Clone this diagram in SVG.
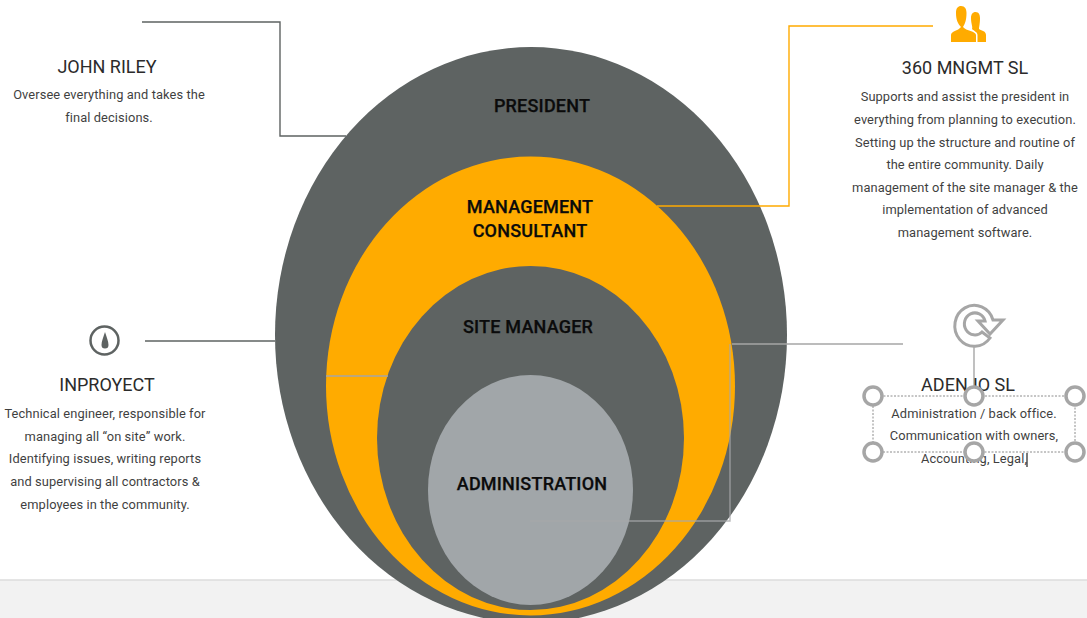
<svg xmlns="http://www.w3.org/2000/svg" width="1087" height="618" viewBox="0 0 1087 618">
<style>
text{font-family:Roboto,"Liberation Sans",sans-serif;text-anchor:middle}
.h{font-size:18px;fill:#2b2b2b}
.b{font-size:12.85px;fill:#3f3f3f;letter-spacing:.1px}
.l{font-size:18px;font-weight:500;fill:#0b0b0b;letter-spacing:.2px;stroke:#0b0b0b;stroke-width:.25px}
.c{fill:none;stroke-width:1.4}
.hd{fill:#fff;stroke:#a6a6a6;stroke-width:3.5}
</style>
<rect width="1087" height="618" fill="#fff"/>
<rect x="0" y="580" width="1087" height="38" fill="#f2f2f2"/>
<line x1="0" y1="580" x2="1087" y2="580" stroke="#dcdcdc" stroke-width="1.3"/>
<g id="node-president"><ellipse cx="531" cy="335" rx="256" ry="288" fill="#5e6362"/><text class="l" x="542" y="112">PRESIDENT</text></g>
<g id="node-consultant"><ellipse cx="530.5" cy="386" rx="204.5" ry="229.500" fill="#ffab00"/><text class="l" x="530" y="213">MANAGEMENT</text><text class="l" x="530" y="237">CONSULTANT</text></g>
<g id="node-site"><ellipse cx="530.5" cy="438" rx="153.500" ry="172" fill="#5e6362"/><text class="l" x="528" y="333">SITE MANAGER</text></g>
<g id="node-admin"><ellipse cx="530.500" cy="490" rx="102.500" ry="115" fill="#a1a6a9"/><text class="l" x="532" y="490">ADMINISTRATION</text></g>
<g id="connectors">
<path class="c" stroke="#5e6362" d="M142 22H280V136H346"/>
<path class="c" stroke="#ffab00" d="M933 26H789V206H657"/>
<path class="c" stroke="#5e6362" d="M145 341H275"/>
<path class="c" stroke="#a6a6a6" d="M326 376H388"/>
<path class="c" stroke="#a6a6a6" d="M732 344H903"/>
<path class="c" stroke="#a6a8aa" stroke-opacity=".8" d="M730 344V521H530"/>
<path class="c" stroke="#a6a6a6" d="M974 345V396"/>
</g>
<g id="node-john"><text class="h" x="107" y="73">JOHN RILEY</text><text class="b" x="109" y="99">Oversee everything and takes the</text><text class="b" x="109" y="122">final decisions.</text></g>
<g id="node-360">
<g fill="#ffab00">
<path d="M951 42V35C951 31 958 31 961 27C958 24 956 20 956 13C956 8 958 6 961 6C965 6 966.500 9 966.500 13C966.500 20 965 24 963 27C966 31 976 31 976 35V42Z"/>
<path d="M977.500 42V35C977.500 32 974 31 972 29C973 27 971 24 971 18C971 14 973 12 975.500 12C979 12 980 15 980 18C980 24 979 27 979 29C982 31 986 31 986 35V42Z"/>
</g>
<text class="h" x="965" y="74">360 MNGMT SL</text>
<text class="b" x="965" y="101">Supports and assist the president in</text>
<text class="b" x="965" y="124">everything from planning to execution.</text>
<text class="b" x="965" y="147">Setting up the structure and routine of</text>
<text class="b" x="965" y="169">the entire community. Daily</text>
<text class="b" x="965" y="192">management of the site manager &amp; the</text>
<text class="b" x="965" y="214">implementation of advanced</text>
<text class="b" x="965" y="237">management software.</text>
</g>
<g id="node-inproyect">
<circle cx="104.500" cy="340.500" r="14" fill="#fff" stroke="#5e6362" stroke-width="2.500"/>
<path d="M105 332C103.500 337 101.500 341 101.500 345A3.500 3.500 0 0 0 108.500 345C108.500 341 106.500 337 105 332Z" fill="#5e6362"/>
<text class="h" x="107" y="391">INPROYECT</text>
<text class="b" x="105" y="418">Technical engineer, responsible for</text>
<text class="b" x="105" y="441">managing all “on site” work.</text>
<text class="b" x="105" y="463">Identifying issues, writing reports</text>
<text class="b" x="105" y="486">and supervising all contractors &amp;</text>
<text class="b" x="105" y="509">employees in the community.</text>
</g>
<g id="node-adenjo">
<path d="M990 338A19.500 20.500 0 1 1 993 320L1003 320L990 334L978 321L985 321A10.500 11 0 1 0 982 332Z" fill="#fff" stroke="#a6a6a6" stroke-width="3" stroke-linejoin="miter"/>
<text class="h" x="968" y="391">ADENJO SL</text>
<rect x="873" y="396" width="202" height="56" fill="none" stroke="#8c8c8c" stroke-dasharray="2 1.500"/>
<text class="b" x="974" y="418">Administration / back office.</text>
<text class="b" x="974" y="440">Communication with owners,</text>
<text class="b" x="974" y="463">Accounting, Legal,</text>
<line x1="1027" y1="453" x2="1027" y2="467" stroke="#222" stroke-width="1.200"/>
<circle class="hd" cx="873" cy="396" r="9"/><circle class="hd" cx="974" cy="396" r="9"/><circle class="hd" cx="1075" cy="396" r="9"/>
<circle class="hd" cx="873" cy="452" r="9"/><circle class="hd" cx="974" cy="452" r="9"/><circle class="hd" cx="1075" cy="452" r="9"/>
</g>
</svg>
